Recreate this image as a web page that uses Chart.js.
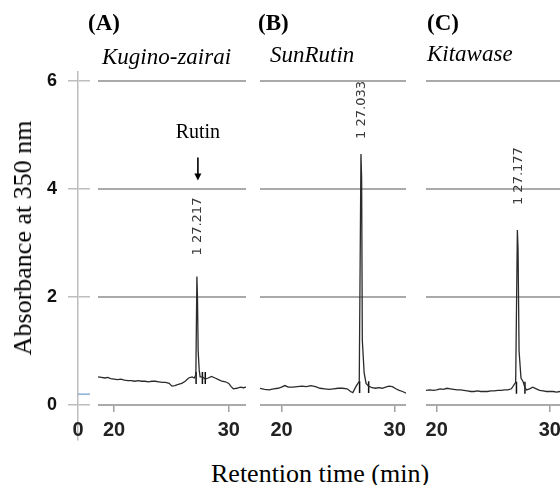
<!DOCTYPE html>
<html>
<head>
<meta charset="utf-8">
<script src="https://cdn.jsdelivr.net/npm/chart.js@4.4.1/dist/chart.umd.min.js"></script>
<style>
  body { margin: 0; background: #fff; overflow: hidden; }
  #wrap { position: relative; width: 560px; height: 485px; overflow: hidden; background: #fff; }
  canvas { position: absolute; }
  .txt { position: absolute; font-family: "Liberation Serif", serif; color: #000; white-space: nowrap; line-height: 1; }
  .lab { font-weight: bold; font-size: 23px; top: 11px; }
  .name { font-style: italic; font-size: 23px; }
</style>
</head>
<body>
<div id="wrap">
  <canvas id="yAxis" width="60" height="428" style="left:30px;top:42px"></canvas>
  <canvas id="panelA" width="188" height="380" style="left:78px;top:60px"></canvas>
  <canvas id="panelB" width="186" height="380" style="left:240px;top:60px"></canvas>
  <canvas id="panelC" width="174" height="380" style="left:406px;top:60px"></canvas>

  <div class="txt lab" style="left:88px">(A)</div>
  <div class="txt lab" style="left:258px">(B)</div>
  <div class="txt lab" style="left:427px">(C)</div>
  <div class="txt name" style="left:102px;top:45px">Kugino-zairai</div>
  <div class="txt name" style="left:270px;top:43px">SunRutin</div>
  <div class="txt name" style="left:427px;top:42px">Kitawase</div>

  <div class="txt" style="left:23px;top:238px;font-size:26px;transform:translate(-50%,-50%) rotate(-90deg)">Absorbance at 350 nm</div>
  <div class="txt" style="left:211px;top:461px;font-size:26px">Retention time (min)</div>
</div>

<script>
// chromatograms: retention time (min) / absorbance
const timeA = [18.6, 18.9, 19.2, 19.45, 19.7, 20.0, 20.3, 20.6, 20.9, 21.2, 21.5, 21.8, 22.1, 22.4, 22.7,
  23.0, 23.3, 23.6, 23.9, 24.2, 24.5, 24.8, 25.05, 25.3, 25.6, 25.9, 26.2, 26.5, 26.8, 27.0, 27.13,
  27.22, 27.27, 27.33, 27.42, 27.5, 27.7, 27.95, 28.2, 28.5, 28.8, 29.1, 29.4, 29.7, 30.0, 30.2, 30.4,
  30.7, 31.0, 31.3, 31.5];
const absA = [0.52, 0.51, 0.50, 0.51, 0.49, 0.48, 0.47, 0.48, 0.46, 0.45, 0.45, 0.44, 0.45, 0.44, 0.44,
  0.43, 0.44, 0.44, 0.43, 0.42, 0.42, 0.40, 0.35, 0.36, 0.38, 0.40, 0.44, 0.50, 0.52, 0.50, 0.56,
  2.38, 2.0, 1.0, 0.65, 0.52, 0.52, 0.48, 0.50, 0.53, 0.50, 0.47, 0.44, 0.43, 0.40, 0.34, 0.30,
  0.31, 0.33, 0.32, 0.33];

const timeB = [18.1, 18.5, 18.9, 19.3, 19.7, 20.0, 20.3, 20.6, 21.0, 21.4, 21.8, 22.2, 22.6, 23.0, 23.4,
  23.8, 24.2, 24.6, 25.0, 25.4, 25.8, 26.1, 26.3, 26.6, 26.87, 27.02, 27.08, 27.14, 27.3, 27.47, 27.7,
  28.0, 28.3, 28.6, 28.9, 29.2, 29.5, 29.8, 30.1, 30.4, 30.7, 31.0];
const absB = [0.31, 0.29, 0.28, 0.30, 0.31, 0.33, 0.36, 0.33, 0.33, 0.34, 0.35, 0.34, 0.36, 0.34, 0.31,
  0.30, 0.29, 0.30, 0.31, 0.31, 0.30, 0.25, 0.23, 0.35, 0.44, 4.65, 4.2, 1.2, 0.6, 0.40, 0.35,
  0.32, 0.31, 0.32, 0.31, 0.33, 0.35, 0.34, 0.30, 0.27, 0.25, 0.22];

const timeC = [19.05, 19.4, 19.7, 20.0, 20.3, 20.6, 20.9, 21.2, 21.5, 21.8, 22.1, 22.4, 22.7, 23.0, 23.3,
  23.6, 23.9, 24.2, 24.5, 24.8, 25.1, 25.4, 25.7, 26.0, 26.3, 26.6, 26.98, 27.13, 27.19, 27.28, 27.45,
  27.64, 27.8, 27.95, 28.2, 28.5, 28.8, 29.1, 29.4, 29.7, 30.0, 30.3, 30.6, 30.9];
const absC = [0.27, 0.28, 0.27, 0.28, 0.30, 0.29, 0.31, 0.30, 0.29, 0.28, 0.28, 0.27, 0.26, 0.25, 0.25,
  0.26, 0.25, 0.25, 0.25, 0.26, 0.26, 0.27, 0.27, 0.28, 0.28, 0.30, 0.42, 3.24, 2.9, 1.0, 0.5,
  0.43, 0.32, 0.28, 0.30, 0.33, 0.30, 0.27, 0.26, 0.25, 0.25, 0.25, 0.24, 0.25];

// integration marks at the peak base
const markTimeA = [27.15, 27.7, 27.95];
const markLevelA = [0.5, 0.5, 0.5];
const markTimeB = [26.9, 27.7];
const markLevelB = [0.33, 0.33];
const markTimeC = [27.05, 27.8];
const markLevelC = [0.32, 0.32];

const peakLabels = ['1 27.217', '1 27.033', '1 27.177'];
const tickValuesY = [0, 2, 4, 6];
const tickValuesX = [20, 30];

const tickFont = { family: 'Liberation Sans', size: 20, weight: 'bold' };

// rotated peak label (+ Rutin arrow on panel A)
const peakNotes = {
  id: 'peakNotes',
  afterDatasetsDraw(chart, args, o) {
    const ctx = chart.ctx;
    const px = chart.scales.x.getPixelForValue(o.time) + 1;
    const bottom = chart.scales.y.getPixelForValue(o.value) - o.gap;
    ctx.save();
    ctx.font = '13px "DejaVu Sans"';
    ctx.fillStyle = '#3a3a3a';
    const w = ctx.measureText(o.text).width;
    ctx.translate(px, bottom);
    ctx.rotate(-Math.PI / 2);
    ctx.textBaseline = 'middle';
    ctx.fillText(o.text, 0, 0);
    ctx.restore();
    if (o.note) {
      const tip = bottom - w - 17;
      ctx.save();
      ctx.strokeStyle = '#000';
      ctx.fillStyle = '#000';
      ctx.lineWidth = 1.6;
      ctx.beginPath();
      ctx.moveTo(px, tip - 23);
      ctx.lineTo(px, tip - 5);
      ctx.stroke();
      ctx.beginPath();
      ctx.moveTo(px - 3.5, tip - 7);
      ctx.lineTo(px + 3.5, tip - 7);
      ctx.lineTo(px, tip);
      ctx.closePath();
      ctx.fill();
      ctx.font = '20px "Liberation Serif"';
      ctx.textAlign = 'center';
      ctx.textBaseline = 'alphabetic';
      ctx.fillText(o.note, px, tip - 43);
      ctx.restore();
    }
  }
};

function makePanel(id, time, abs, xMin, xMax, label, gap, markT, markL, note) {
  const trace = time.map((t, i) => ({ x: t, y: abs[i] }));
  const marks = [];
  markT.forEach((t, i) => {
    marks.push({ x: t, y: markL[i] + 0.11 }, { x: t, y: markL[i] - 0.11 }, { x: t, y: null });
  });
  let top = 0;
  abs.forEach((v, i) => { if (v > abs[top]) top = i; });

  return new Chart(document.getElementById(id), {
    type: 'line',
    data: {
      datasets: [
        { data: trace, borderColor: '#2b2b2b', borderWidth: 1.3, pointRadius: 0, tension: 0 },
        { data: marks, borderColor: '#111', borderWidth: 1.5, pointRadius: 0, spanGaps: false }
      ]
    },
    options: {
      responsive: false,
      animation: false,
      layout: { padding: { top: 21, left: 20, right: 20, bottom: 0 } },
      plugins: {
        legend: { display: false },
        tooltip: { enabled: false },
        peakNotes: { time: time[top], value: abs[top], text: label, gap: gap, note: note }
      },
      scales: {
        x: {
          type: 'linear', min: xMin, max: xMax,
          afterBuildTicks: s => { s.ticks = tickValuesX.map(v => ({ value: v })); },
          afterFit: s => { s.height = 35; },
          grid: { drawOnChartArea: false, tickLength: 7, color: '#a0a0a0', lineWidth: 1.5 },
          border: { display: false },
          ticks: { font: tickFont, color: '#222', padding: 6, maxRotation: 0, autoSkip: false }
        },
        y: {
          min: 0, max: 6,
          afterBuildTicks: s => { s.ticks = tickValuesY.map(v => ({ value: v })); },
          afterFit: s => { s.width = 0; },
          grid: { color: '#aaaaaa', lineWidth: 2, drawTicks: false },
          border: { display: false },
          ticks: { display: false }
        }
      }
    },
    plugins: [peakNotes]
  });
}

// y axis drawn on its own, left of the three panels
const originMark = {
  id: 'originMark',
  afterDraw(chart) {
    const ctx = chart.ctx;
    const a = chart.chartArea;
    const yb = chart.scales.y.getPixelForValue(0.2);
    ctx.save();
    ctx.strokeStyle = '#6d9ccf';
    ctx.lineWidth = 1.2;
    ctx.beginPath();
    ctx.moveTo(a.left, yb);
    ctx.lineTo(a.right, yb);
    ctx.stroke();
    ctx.font = 'bold 20px "Liberation Sans"';
    ctx.fillStyle = '#222';
    ctx.textAlign = 'center';
    ctx.textBaseline = 'middle';
    ctx.fillText('0', a.left, a.bottom - 10);
    ctx.restore();
  }
};

new Chart(document.getElementById('yAxis'), {
  type: 'line',
  data: { datasets: [] },
  options: {
    responsive: false,
    animation: false,
    layout: { padding: { top: 30, bottom: 30, left: 0, right: 0 } },
    plugins: { legend: { display: false }, tooltip: { enabled: false } },
    scales: {
      x: { type: 'linear', display: false, min: 0, max: 1 },
      y: {
        min: -0.65, max: 6.17,
        afterBuildTicks: s => { s.ticks = tickValuesY.map(v => ({ value: v })); },
        afterFit: s => { s.width = 48; },
        grid: { color: '#bdbdbd', lineWidth: 1.5, tickLength: 10 },
        border: { color: '#bdbdbd', width: 1.5 },
        ticks: { font: { family: 'Liberation Sans', size: 18, weight: 'bold' }, color: '#111', padding: 11 }
      }
    }
  },
  plugins: [originMark]
});

makePanel('panelA', timeA, absA, 18.6, 31.5, peakLabels[0], 21, markTimeA, markLevelA, 'Rutin');
makePanel('panelB', timeB, absB, 18.1, 31.0, peakLabels[1], 15, markTimeB, markLevelB, null);
makePanel('panelC', timeC, absC, 19.05, 30.9, peakLabels[2], 25, markTimeC, markLevelC, null);
</script>
</body>
</html>
